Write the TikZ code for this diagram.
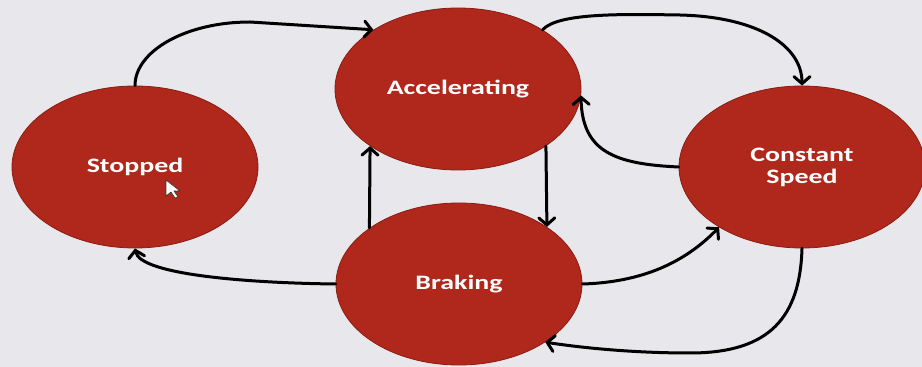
\documentclass[tikz,border=0pt]{standalone}
\usepackage{fontspec}
\setmainfont{Carlito}
\usetikzlibrary{shapes.geometric,arrows.meta}
\definecolor{bg}{HTML}{E8E7EB}
\definecolor{statefill}{HTML}{B0281C}
\definecolor{stateedge}{HTML}{8A1C12}
% state names are set slightly widened
\newcommand\statelabel[1]{\scalebox{1.36}[1]{#1}}
\tikzset{
  state/.style={ellipse, fill=statefill, draw=stateedge, line width=0.8pt,
    minimum width=246pt, minimum height=162pt, inner sep=0pt, text=white,
    font=\fontsize{20.5}{22}\selectfont\bfseries, align=center},
  trans/.style={line width=3pt, line cap=round,
    -{Straight Barb[length=7pt,width=16pt,line cap=round]}},
  pointer/.style={fill=white, draw=black!80, line width=0.6pt, line join=round},
}
\begin{document}
\begin{tikzpicture}[x=1pt,y=1pt]
  \fill[bg] (0,0) rectangle (922,367);
  \useasboundingbox (0,0) rectangle (922,367);

  % states
  \node[state] (stop) at (135,200) {\statelabel{Stopped}};
  \node[state] (acc)  at (458,278) {\statelabel{Accelerating}};
  \node[state] (brk)  at (459,83)  {\statelabel{Braking}};
  \node[state] (cs)   at (802,200) {\statelabel{Constant}\\\statelabel{Speed}};

  % transitions
  \draw[trans] (stop.north) .. controls (135,316) and (186,345) .. (250,345) -- (acc.145);
  \draw[trans] (acc.35) .. controls (558,354) and (620,353) .. (680,352)
               .. controls (760,350) and (802,320) .. (cs.north);
  \draw[trans] (cs.west) .. controls (615,203) and (582,215) .. (acc.-3);
  \draw[trans] (brk.148) -- (acc.213);
  \draw[trans] (acc.-33) -- (brk.33);
  \draw[trans] (brk.west) .. controls (250,84) and (140,92) .. (stop.south);
  \draw[trans] (brk.east) .. controls (650,85) and (690,110) .. (cs.216);
  \draw[trans] (cs.south) .. controls (800,50) and (770,14) .. (690,14)
               .. controls (640,14) and (590,18) .. (brk.-34);

  % mouse pointer
  \draw[pointer] (166,187) -- ++(0,-16) -- ++(5,4) -- ++(4,-6) -- ++(3,1)
    -- ++(-4,6) -- ++(6,0) -- cycle;
\end{tikzpicture}
\end{document}
